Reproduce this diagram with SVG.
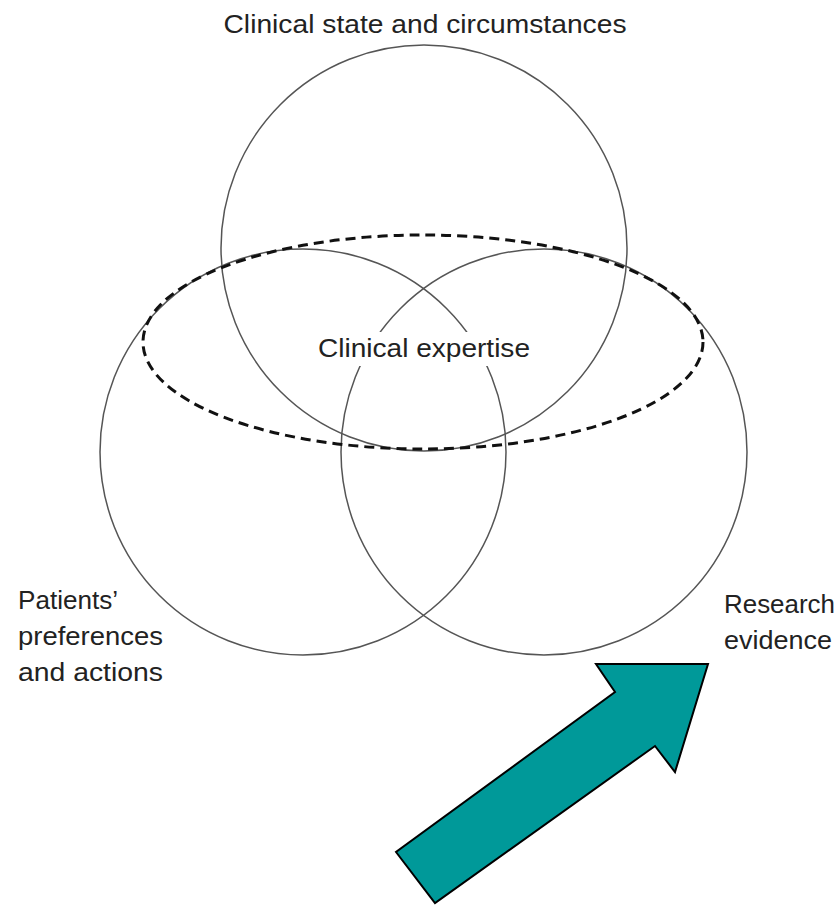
<svg xmlns="http://www.w3.org/2000/svg" width="840" height="905" viewBox="0 0 840 905">
<style>
.c{fill:none;stroke:#555;stroke-width:1.5}
.e{fill:none;stroke:#111;stroke-width:3;stroke-dasharray:10 6}
.t{font-family:"Liberation Sans",Arial,sans-serif;font-size:26px;fill:#222}
</style>
<rect width="840" height="905" fill="#fff"/>
<g id="clinical-state"><circle class="c" cx="424" cy="248" r="203"/></g>
<g id="patients"><circle class="c" cx="303" cy="452" r="203"/></g>
<g id="research"><circle class="c" cx="544" cy="452" r="203"/></g>
<g id="clinical-expertise">
<ellipse class="e" cx="423" cy="342" rx="280" ry="107"/>
<rect x="314" y="332" width="220" height="34" fill="#fff"/>
<text class="t" x="424" y="357" text-anchor="middle" textLength="212" lengthAdjust="spacingAndGlyphs">Clinical expertise</text>
</g>
<g id="labels">
<text class="t" x="425" y="33" text-anchor="middle" textLength="403" lengthAdjust="spacingAndGlyphs">Clinical state and circumstances</text>
<text class="t" x="18" y="609" textLength="100" lengthAdjust="spacingAndGlyphs">Patients’</text>
<text class="t" x="18" y="645" textLength="145" lengthAdjust="spacingAndGlyphs">preferences</text>
<text class="t" x="18" y="681" textLength="145" lengthAdjust="spacingAndGlyphs">and actions</text>
<text class="t" x="724" y="613" textLength="111" lengthAdjust="spacingAndGlyphs">Research</text>
<text class="t" x="724" y="649" textLength="108" lengthAdjust="spacingAndGlyphs">evidence</text>
</g>
<g id="connectors">
<polygon points="396,852 435,903 655,746 675,772 708,664 596,664 615,692" fill="#009999" stroke="#000" stroke-width="2" stroke-linejoin="miter"/>
</g>
</svg>
